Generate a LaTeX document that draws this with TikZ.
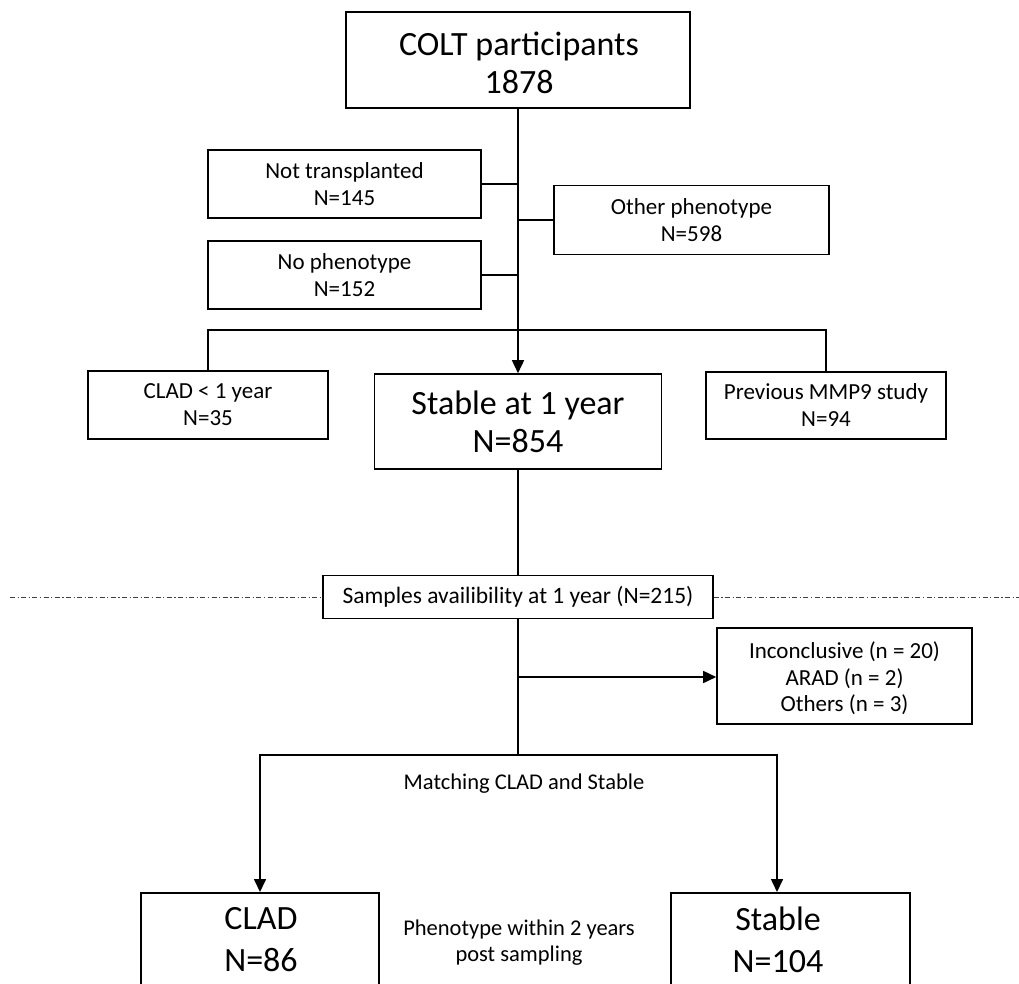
\documentclass[tikz,border=0pt]{standalone}
\usepackage{fontspec}
\setmainfont{Carlito}
\usetikzlibrary{arrows.meta}
\begin{document}
\begin{tikzpicture}[x=1pt,y=-1pt,
  box/.style={draw, line width=1.6pt, inner sep=0pt, align=center},
  big/.style={font=\fontsize{34}{36}\selectfont, align=center},
  small/.style={font=\fontsize{23}{27}\selectfont, align=center},
  conn/.style={line width=1.6pt},
  arr/.style={conn, -{Triangle[length=13pt,width=12pt]}},
  sep/.style={line width=0.9pt, black!75, dash pattern=on 5pt off 2.5pt on 1.2pt off 2.5pt}]
\path[use as bounding box, clip] (0,0) rectangle (1019,983);

\node[box, minimum width=344pt, minimum height=96pt] (colt) at (518,60) {};
\node[big, font=\fontsize{34}{38.5}\selectfont] (coltt) at (519,63) {COLT participants\\1878};
\node[box, small, minimum width=273pt, minimum height=68pt] (nt) at (344.5,184) {Not transplanted\\N=145};
\node[box, small, minimum width=275pt, minimum height=69pt] (oth) at (691.5,220) {Other phenotype\\N=598};
\node[box, small, minimum width=273pt, minimum height=68pt] (np) at (344.5,275) {No phenotype\\N=152};
\node[box, small, minimum width=240pt, minimum height=68pt] (c1) at (208,405) {CLAD {\textless} 1 year\\N=35};
\node[box, big, font=\fontsize{34}{38}\selectfont, minimum width=287pt, minimum height=95pt] (s1) at (518,421.5) {Stable at 1 year\\N=854};
\node[box, small, minimum width=240pt, minimum height=67pt] (prev) at (826,405.5) {Previous MMP9 study\\N=94};
\node[box, small, font=\fontsize{23.5}{27}\selectfont, minimum width=390pt, minimum height=43pt] (samp) at (518,597) {Samples availibility at 1 year (N=215)};
\node[box, minimum width=255pt, minimum height=96pt] (inc) at (844.5,676) {};
\node[small, font=\fontsize{23}{26.5}\selectfont] (inct) at (844.5,678.5) {Inconclusive (n = 20)\\ARAD (n = 2)\\Others (n = 3)};
\node[box, minimum width=238pt, minimum height=160pt, anchor=north] (clad) at (260,892) {};
\node[box, minimum width=239pt, minimum height=160pt, anchor=north] (stab) at (790.5,892) {};
\node[big, font=\fontsize{34}{42}\selectfont] (cladt) at (261,940) {CLAD\\N=86};
\node[big, font=\fontsize{34}{42}\selectfont] (stabt) at (778,940) {Stable\\N=104};
\node[small, font=\fontsize{22.5}{27}\selectfont] (match) at (524,784) {Matching CLAD and Stable};
\node[small, font=\fontsize{22.5}{26}\selectfont] (pheno) at (519,943) {Phenotype within 2 years\\post sampling};

% main trunk
\draw[arr] (colt.south) -- (s1.north);
\draw[conn] (nt.east) -- (nt.east -| colt.south);
\draw[conn] (oth.west) -- (oth.west -| colt.south);
\draw[conn] (np.east) -- (np.east -| colt.south);
\coordinate (bar) at (518,330);
\draw[conn] (c1.north) -- (c1.north |- bar) -- (prev.north |- bar) -- (prev.north);

\draw[conn] (s1.south) -- (samp.north);
\coordinate (sl) at (10,597);
\coordinate (sr) at (1019,597);
\draw[sep] (sl) -- (samp.west);
\draw[sep] (samp.east) -- (sr);

\coordinate (split) at (518,755);
\coordinate (exc) at (518,677);
\draw[conn] (samp.south) -- (split);
\draw[arr] (exc) -- (inc.west |- exc);
\coordinate (stabin) at (777,892);
\draw[arr] (split) -| (clad.north);
\draw[arr] (split) -| (stabin);
\end{tikzpicture}
\end{document}
